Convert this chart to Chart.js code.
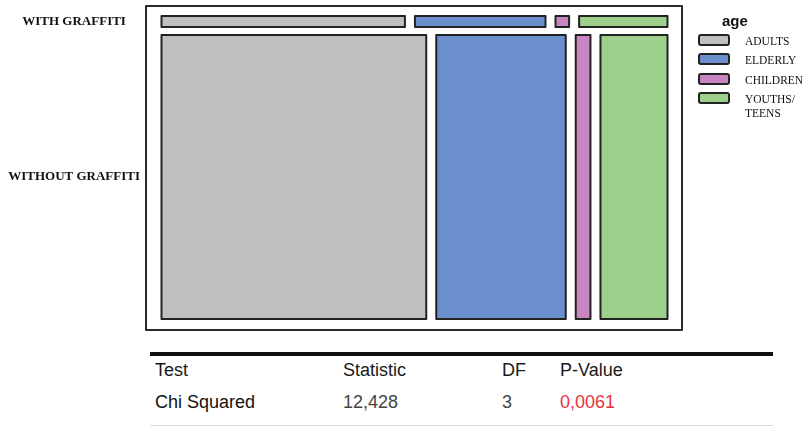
<!DOCTYPE html>
<html>
<head>
<meta charset="utf-8">
<script src="https://cdn.jsdelivr.net/npm/chart.js@4.4.1/dist/chart.umd.min.js"></script>
<style>
  html, body { margin: 0; padding: 0; background: #fff; }
  #wrap { position: relative; width: 805px; height: 427px; overflow: hidden; background: #fff; }
  #chartBox { position: absolute; left: 0; top: 0; width: 805px; height: 340px; }
  .abs { position: absolute; white-space: nowrap; }
  .lg-title { font-family: "Liberation Sans", Arial, sans-serif; font-weight: bold; font-size: 15px; color: #111; line-height: 16px; }
  .lg-box { position: absolute; width: 28px; height: 8px; border: 2px solid #222; border-radius: 3px; }
  .lg-text { font-family: "Liberation Serif", "Times New Roman", serif; font-size: 11.5px; color: #111; line-height: 14px; }
  .tb { font-family: "Liberation Sans", Arial, sans-serif; font-size: 18px; line-height: 20px; color: #1a1a1a; }
</style>
</head>
<body>
<div id="wrap">
  <div id="chartBox"><canvas id="c"></canvas></div>
  <div id="legend"></div>
  <div id="table"></div>
</div>
<script>
// ---- data ----
const ageGroups = ['ADULTS', 'ELDERLY', 'CHILDREN', 'YOUTHS/TEENS'];
const ageLegendLabels = [['ADULTS'], ['ELDERLY'], ['CHILDREN'], ['YOUTHS/', 'TEENS']];
const graffitiGroups = ['WITH GRAFFITI', 'WITHOUT GRAFFITI'];
const withGraffiti = [358, 192, 20, 130];
const withoutGraffiti = [10070, 4925, 560, 2550];
const legendTitle = 'age';
const testHeaders = ['Test', 'Statistic', 'DF', 'P-Value'];
const testRow = ['Chi Squared', '12,428', '3', '0,0061'];

// ---- styles ----
const ageColors = ['#bfbfbf', '#6b8fcc', '#c985c2', '#9dd08a'];
const FRAME_W = 536, FRAME_H = 324;
const padL = 15.5 / FRAME_W, padR = 14.5 / FRAME_W, gapX = 10 / FRAME_W;
const padTop = 10 / FRAME_H, padBottom = 11 / FRAME_H, gapY = 8 / FRAME_H;

// ---- mosaic layout from counts ----
const rows = [withGraffiti, withoutGraffiti];
const rowTotals = rows.map(r => r.reduce((a, b) => a + b, 0));
const grand = rowTotals.reduce((a, b) => a + b, 0);
const availY = 1 - padTop - padBottom - gapY * (rows.length - 1);
const datasets = [];
const rowCenters = [];
let yTop = 1 - padTop;
rows.forEach((r, ri) => {
  const h = availY * rowTotals[ri] / grand;
  const yBot = yTop - h;
  rowCenters.push((yTop + yBot) / 2);
  const availX = 1 - padL - padR - gapX * (r.length - 1);
  let x0 = padL;
  r.forEach((v, ci) => {
    const w = availX * v / rowTotals[ri];
    const x1 = x0 + w;
    datasets.push({
      label: graffitiGroups[ri] + ' / ' + ageGroups[ci],
      data: [{x: x0, y: yBot}, {x: x1, y: yBot}, {x: x1, y: yTop}, {x: x0, y: yTop}, {x: x0, y: yBot}],
      showLine: true,
      fill: 'shape',
      backgroundColor: ageColors[ci],
      borderColor: '#222',
      borderWidth: 2,
      borderJoinStyle: 'round',
      pointRadius: 0,
      pointHoverRadius: 0,
      tension: 0
    });
    x0 = x1 + gapX;
  });
  yTop = yBot - gapY;
});

const framePlugin = {
  id: 'frame',
  afterDatasetsDraw(chart) {
    const {ctx, chartArea: a} = chart;
    ctx.save();
    ctx.strokeStyle = '#2a2a2a';
    ctx.lineWidth = 2;
    ctx.lineJoin = 'round';
    ctx.strokeRect(a.left, a.top, a.right - a.left, a.bottom - a.top);
    ctx.restore();
  }
};

new Chart(document.getElementById('c'), {
  type: 'scatter',
  data: { datasets },
  options: {
    responsive: true,
    maintainAspectRatio: false,
    animation: false,
    layout: { padding: { top: 6, right: 123, bottom: 10, left: 0 } },
    plugins: { legend: { display: false }, tooltip: { enabled: false } },
    scales: {
      x: { type: 'linear', min: 0, max: 1, display: false },
      y: {
        type: 'linear', min: 0, max: 1, position: 'left',
        grid: { display: false, drawTicks: false },
        border: { display: false },
        afterBuildTicks(axis) { axis.ticks = rowCenters.map(v => ({ value: v })); },
        afterFit(axis) { axis.width = 146; axis.paddingTop = 0; axis.paddingBottom = 0; },
        ticks: {
          autoSkip: false,
          padding: 6,
          crossAlign: 'center',
          color: '#111',
          font: { family: 'Liberation Serif', size: 13, weight: 'bold' },
          callback: (v, i) => graffitiGroups[i]
        }
      }
    }
  },
  plugins: [framePlugin]
});

// ---- legend (HTML) ----
const lg = document.getElementById('legend');
const t = document.createElement('div');
t.className = 'abs lg-title';
t.style.left = '722px'; t.style.top = '13px';
t.textContent = legendTitle;
lg.appendChild(t);
const itemCenters = [40, 59, 79, 98];
ageLegendLabels.forEach((lines, i) => {
  const b = document.createElement('div');
  b.className = 'lg-box';
  b.style.left = '698px';
  b.style.top = (itemCenters[i] - 6) + 'px';
  b.style.background = ageColors[i];
  lg.appendChild(b);
  lines.forEach((ln, k) => {
    const s = document.createElement('div');
    s.className = 'abs lg-text';
    s.style.left = '745px';
    s.style.top = (itemCenters[i] - 6 + k * 14) + 'px';
    s.textContent = ln;
    lg.appendChild(s);
  });
});

// ---- statistics table (HTML) ----
const tb = document.getElementById('table');
const colX = [155, 343, 502, 560];
const line = document.createElement('div');
line.className = 'abs';
Object.assign(line.style, { left: '150px', top: '352px', width: '623px', height: '3.5px', background: '#111' });
tb.appendChild(line);
const line2 = document.createElement('div');
line2.className = 'abs';
Object.assign(line2.style, { left: '150px', top: '425px', width: '623px', height: '1px', background: '#d9d9d9' });
tb.appendChild(line2);
testHeaders.forEach((h, i) => {
  const s = document.createElement('div');
  s.className = 'abs tb';
  s.style.left = colX[i] + 'px'; s.style.top = '360px';
  s.textContent = h;
  tb.appendChild(s);
});
const rowColors = ['#111', '#444', '#444', '#e8333f'];
testRow.forEach((v, i) => {
  const s = document.createElement('div');
  s.className = 'abs tb';
  s.style.left = colX[i] + 'px'; s.style.top = '392px';
  s.style.color = rowColors[i];
  s.textContent = v;
  tb.appendChild(s);
});
</script>
</body>
</html>
